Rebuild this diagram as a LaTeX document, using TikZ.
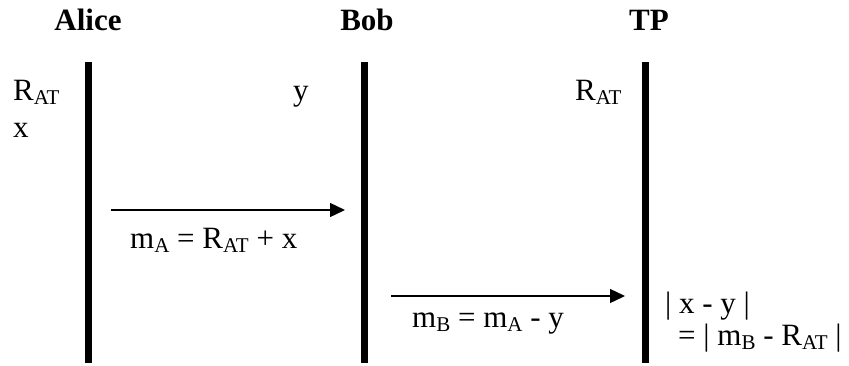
\documentclass[tikz,border=0pt]{standalone}
\usepackage{fontspec}
\setmainfont{Liberation Serif}
\usetikzlibrary{arrows.meta}
\newcommand\sbs[1]{\raisebox{-0.13em}{\fontsize{21}{21}\selectfont #1}}
\tikzset{
  txt/.style={anchor=base west,inner sep=0pt,font=\fontsize{31}{37}\selectfont},
  head/.style={anchor=base,inner sep=0pt,font=\fontsize{31}{37}\selectfont\bfseries},
  life/.style={line width=7pt},
  msg/.style={line width=1.3pt,-{Triangle[length=15pt,width=14pt]}}
}
\begin{document}
\begin{tikzpicture}[x=1pt,y=-1pt]
\useasboundingbox (0,0) rectangle (849,365);
% headers
\node[head] (alice) at (88,30) {Alice};
\node[head] (bob) at (367,30) {Bob};
\node[head] (tp) at (649,30) {TP};
% lifelines
\coordinate (at) at (88.5,62); \coordinate (ab) at (88.5,363);
\coordinate (bt) at (364.5,62); \coordinate (bb) at (364.5,363);
\coordinate (tt) at (645.5,62); \coordinate (tb) at (645.5,363);
\draw[life] (at) -- (ab);
\draw[life] (bt) -- (bb);
\draw[life] (tt) -- (tb);
% local values
\node[txt] (ar) at (13,100) {R\sbs{AT}};
\node[txt] (ax) at (13,137) {x};
\node[txt] (by) at (293,100) {y};
\node[txt] (tr) at (575,100) {R\sbs{AT}};
% messages
\coordinate (m1s) at (111,210); \coordinate (m1e) at (345,210);
\draw[msg] (m1s) -- (m1e);
\node[txt] (l1) at (130,248) {m\sbs{A} = R\sbs{AT} + x};
\coordinate (m2s) at (391,296); \coordinate (m2e) at (625,296);
\draw[msg] (m2s) -- (m2e);
\node[txt] (l2) at (412,327) {m\sbs{B} = m\sbs{A} - y};
% result
\node[txt] (r1) at (665,313) {| x - y |};
\node[txt] (r2) at (678,345) {= | m\sbs{B} - R\sbs{AT} |};
\end{tikzpicture}
\end{document}
